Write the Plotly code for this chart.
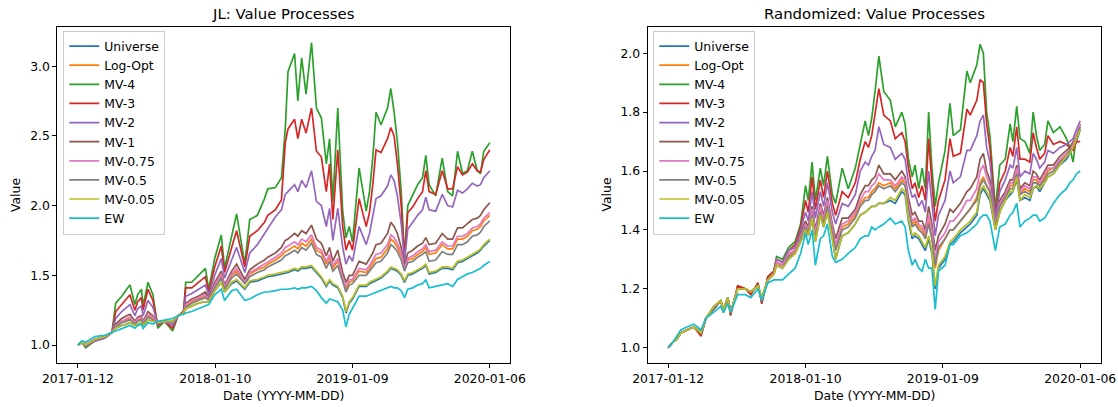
import plotly.graph_objects as go

# ---------------- shared labels ----------------
SERIES_NAMES = ["Universe", "Log-Opt", "MV-4", "MV-3", "MV-2", "MV-1",
                "MV-0.75", "MV-0.5", "MV-0.05", "EW"]
TICK_IDX = [0, 251, 502, 753]
TICK_TEXT = ["2017-01-12", "2018-01-10", "2019-01-09", "2020-01-06"]

# ---------------- JL panel (trading-day index, values) ----------------
JL_IDX = [0, 7, 14, 31, 49, 62, 69, 80, 89, 95, 104, 109, 116, 119, 128, 137, 146, 158, 173, 183,
          193, 197, 208, 220, 233, 239, 250, 262, 268, 281, 290, 305, 314, 328, 341, 347, 361, 372, 379, 384,
          396, 402, 409, 417, 427, 436, 445, 454, 460, 466, 475, 484, 490, 496, 502, 514, 527, 533, 539, 545,
          554, 566, 572, 578, 584, 591, 597, 603, 612, 621, 630, 636, 642, 654, 666, 676, 685, 694, 703, 712,
          721, 730, 736, 742, 753]
JL_MV4 = [1.00, 1.02, 0.98, 1.03, 1.05, 1.09, 1.30, 1.35, 1.40, 1.43, 1.29, 1.36, 1.40, 1.28, 1.45,
          1.36, 1.12, 1.17, 1.10, 1.21, 1.24, 1.45, 1.45, 1.50, 1.55, 1.40, 1.62, 1.79, 1.55, 1.78,
          1.94, 1.58, 1.90, 1.93, 2.05, 2.12, 2.13, 2.20, 2.55, 2.96, 3.09, 2.75, 3.06, 2.80, 3.17,
          2.70, 2.63, 2.30, 2.48, 2.03, 2.70, 1.96, 1.77, 1.85, 1.74, 2.27, 1.96, 2.10, 2.34, 2.67,
          2.58, 2.70, 2.84, 2.67, 2.46, 2.10, 1.63, 2.00, 2.07, 2.15, 2.20, 2.36, 2.15, 2.07, 2.34,
          2.10, 2.07, 2.39, 2.23, 2.25, 2.39, 2.25, 2.23, 2.39, 2.45]
JL_MV3 = [1.00, 1.02, 0.99, 1.03, 1.05, 1.09, 1.24, 1.29, 1.33, 1.36, 1.25, 1.31, 1.34, 1.25, 1.40,
          1.32, 1.14, 1.17, 1.12, 1.21, 1.24, 1.41, 1.41, 1.45, 1.49, 1.38, 1.56, 1.71, 1.52, 1.70,
          1.82, 1.56, 1.78, 1.82, 1.88, 1.93, 1.97, 2.04, 2.45, 2.55, 2.62, 2.48, 2.62, 2.52, 2.70,
          2.39, 2.35, 2.10, 2.30, 1.90, 2.40, 1.85, 1.68, 1.75, 1.68, 2.05, 1.85, 1.95, 2.15, 2.40,
          2.38, 2.48, 2.56, 2.50, 2.30, 2.00, 1.62, 1.95, 1.99, 2.05, 2.10, 2.25, 2.10, 2.08, 2.25,
          2.12, 2.12, 2.28, 2.22, 2.24, 2.30, 2.25, 2.24, 2.33, 2.40]
JL_MV2 = [1.00, 1.02, 0.99, 1.03, 1.05, 1.09, 1.19, 1.24, 1.27, 1.29, 1.21, 1.26, 1.28, 1.21, 1.32,
          1.27, 1.15, 1.17, 1.14, 1.21, 1.23, 1.35, 1.37, 1.40, 1.43, 1.36, 1.50, 1.62, 1.48, 1.61,
          1.70, 1.52, 1.66, 1.72, 1.80, 1.84, 1.92, 1.97, 2.08, 2.10, 2.15, 2.10, 2.18, 2.13, 2.25,
          2.03, 2.00, 1.85, 1.98, 1.75, 1.98, 1.70, 1.58, 1.64, 1.60, 1.85, 1.72, 1.80, 1.93, 2.05,
          2.07, 2.14, 2.22, 2.18, 2.07, 1.87, 1.60, 1.83, 1.88, 1.93, 1.97, 2.06, 1.97, 1.96, 2.08,
          2.00, 1.99, 2.11, 2.09, 2.12, 2.16, 2.14, 2.15, 2.20, 2.25]
JL_MV1 = [1.00, 1.02, 1.00, 1.04, 1.06, 1.09, 1.15, 1.19, 1.21, 1.22, 1.17, 1.20, 1.21, 1.17, 1.24,
          1.21, 1.16, 1.17, 1.16, 1.21, 1.23, 1.30, 1.33, 1.35, 1.38, 1.34, 1.45, 1.53, 1.43, 1.53,
          1.58, 1.47, 1.54, 1.58, 1.61, 1.63, 1.66, 1.70, 1.75, 1.76, 1.80, 1.78, 1.82, 1.80, 1.86,
          1.76, 1.73, 1.64, 1.70, 1.60, 1.68, 1.52, 1.45, 1.50, 1.50, 1.60, 1.58, 1.62, 1.66, 1.72,
          1.73, 1.80, 1.88, 1.85, 1.80, 1.70, 1.57, 1.66, 1.68, 1.71, 1.73, 1.77, 1.72, 1.73, 1.80,
          1.76, 1.76, 1.84, 1.84, 1.87, 1.90, 1.91, 1.93, 1.97, 2.02]
JL_MV075 = [1.00, 1.02, 1.00, 1.04, 1.06, 1.09, 1.14, 1.17, 1.19, 1.20, 1.16, 1.19, 1.20, 1.16, 1.22,
            1.20, 1.16, 1.17, 1.16, 1.21, 1.23, 1.29, 1.32, 1.34, 1.36, 1.33, 1.43, 1.51, 1.42, 1.51,
            1.55, 1.45, 1.52, 1.55, 1.58, 1.60, 1.63, 1.66, 1.70, 1.71, 1.74, 1.72, 1.76, 1.74, 1.79,
            1.70, 1.68, 1.60, 1.65, 1.57, 1.62, 1.48, 1.42, 1.47, 1.47, 1.55, 1.54, 1.57, 1.61, 1.65,
            1.66, 1.72, 1.79, 1.77, 1.73, 1.66, 1.55, 1.62, 1.64, 1.67, 1.69, 1.72, 1.67, 1.68, 1.74,
            1.71, 1.71, 1.78, 1.78, 1.80, 1.84, 1.85, 1.87, 1.91, 1.95]
JL_LOGOPT = [1.00, 1.02, 1.00, 1.04, 1.06, 1.09, 1.14, 1.17, 1.18, 1.19, 1.16, 1.18, 1.19, 1.16, 1.21,
             1.19, 1.16, 1.17, 1.16, 1.21, 1.23, 1.28, 1.31, 1.33, 1.35, 1.33, 1.42, 1.50, 1.41, 1.50,
             1.53, 1.45, 1.51, 1.54, 1.56, 1.58, 1.61, 1.64, 1.67, 1.68, 1.71, 1.69, 1.73, 1.71, 1.76,
             1.68, 1.66, 1.58, 1.63, 1.55, 1.60, 1.47, 1.40, 1.45, 1.46, 1.53, 1.52, 1.55, 1.59, 1.62,
             1.63, 1.69, 1.76, 1.74, 1.70, 1.64, 1.55, 1.61, 1.62, 1.65, 1.67, 1.70, 1.65, 1.66, 1.72,
             1.69, 1.69, 1.76, 1.76, 1.78, 1.82, 1.83, 1.85, 1.89, 1.93]
JL_MV05 = [1.00, 1.02, 1.00, 1.04, 1.06, 1.09, 1.13, 1.16, 1.17, 1.18, 1.15, 1.17, 1.18, 1.15, 1.20,
           1.18, 1.16, 1.17, 1.16, 1.21, 1.23, 1.27, 1.30, 1.32, 1.34, 1.32, 1.41, 1.48, 1.40, 1.48,
           1.51, 1.44, 1.49, 1.52, 1.54, 1.56, 1.59, 1.61, 1.64, 1.65, 1.68, 1.66, 1.70, 1.68, 1.73,
           1.65, 1.63, 1.55, 1.60, 1.53, 1.57, 1.45, 1.38, 1.43, 1.44, 1.50, 1.50, 1.53, 1.56, 1.59,
           1.60, 1.66, 1.72, 1.70, 1.67, 1.61, 1.53, 1.59, 1.60, 1.63, 1.65, 1.67, 1.60, 1.61, 1.67,
           1.65, 1.65, 1.72, 1.72, 1.74, 1.78, 1.79, 1.81, 1.85, 1.89]
JL_MV005 = [1.00, 1.02, 1.00, 1.04, 1.06, 1.09, 1.12, 1.14, 1.15, 1.16, 1.14, 1.15, 1.16, 1.14, 1.18,
            1.17, 1.16, 1.17, 1.17, 1.21, 1.23, 1.26, 1.28, 1.30, 1.31, 1.31, 1.39, 1.45, 1.38, 1.45,
            1.47, 1.41, 1.46, 1.47, 1.49, 1.50, 1.51, 1.52, 1.53, 1.53, 1.55, 1.54, 1.56, 1.56, 1.57,
            1.53, 1.49, 1.43, 1.47, 1.44, 1.42, 1.35, 1.24, 1.31, 1.34, 1.43, 1.43, 1.45, 1.46, 1.47,
            1.49, 1.53, 1.56, 1.55, 1.54, 1.51, 1.46, 1.51, 1.52, 1.54, 1.56, 1.58, 1.52, 1.53, 1.56,
            1.56, 1.55, 1.60, 1.61, 1.63, 1.65, 1.67, 1.69, 1.72, 1.76]
JL_UNIVERSE = [1.00, 1.02, 1.00, 1.04, 1.06, 1.09, 1.12, 1.14, 1.15, 1.16, 1.14, 1.15, 1.16, 1.14, 1.18,
               1.17, 1.16, 1.17, 1.17, 1.21, 1.23, 1.26, 1.28, 1.30, 1.31, 1.31, 1.39, 1.45, 1.38, 1.44,
               1.46, 1.40, 1.45, 1.46, 1.48, 1.49, 1.50, 1.51, 1.52, 1.52, 1.54, 1.53, 1.55, 1.55, 1.56,
               1.52, 1.48, 1.42, 1.46, 1.43, 1.41, 1.34, 1.23, 1.30, 1.33, 1.42, 1.42, 1.44, 1.45, 1.46,
               1.48, 1.52, 1.55, 1.54, 1.53, 1.50, 1.45, 1.50, 1.51, 1.53, 1.55, 1.57, 1.51, 1.52, 1.55,
               1.55, 1.54, 1.59, 1.60, 1.62, 1.64, 1.66, 1.68, 1.71, 1.75]
JL_EW = [1.00, 1.03, 1.02, 1.06, 1.07, 1.09, 1.10, 1.12, 1.13, 1.14, 1.12, 1.14, 1.15, 1.12, 1.16,
         1.15, 1.17, 1.18, 1.19, 1.21, 1.22, 1.23, 1.24, 1.26, 1.28, 1.29, 1.36, 1.40, 1.32, 1.39,
         1.40, 1.32, 1.33, 1.36, 1.38, 1.38, 1.39, 1.40, 1.40, 1.40, 1.41, 1.40, 1.41, 1.41, 1.42,
         1.39, 1.34, 1.30, 1.33, 1.32, 1.31, 1.25, 1.13, 1.22, 1.26, 1.35, 1.35, 1.36, 1.37, 1.38,
         1.39, 1.41, 1.42, 1.41, 1.41, 1.39, 1.34, 1.40, 1.41, 1.43, 1.44, 1.47, 1.41, 1.42, 1.43,
         1.44, 1.42, 1.47, 1.49, 1.51, 1.52, 1.54, 1.55, 1.57, 1.60]

# ---------------- Randomized panel ----------------
RND_IDX = [0, 9, 16, 23, 34, 47, 60, 69, 83, 96, 101, 109, 114, 127, 141, 151, 164, 171, 182, 193,
           198, 209, 220, 232, 242, 251, 256, 263, 269, 278, 284, 291, 300, 306, 318, 329, 342, 351, 360, 366,
           372, 378, 385, 394, 406, 415, 427, 433, 439, 446, 451, 458, 464, 470, 476, 482, 488, 494, 506, 515,
           521, 534, 546, 552, 564, 570, 576, 582, 588, 598, 606, 616, 625, 630, 637, 643, 652, 661, 667, 673,
           679, 688, 694, 704, 716, 728, 734, 740, 746, 753]
RND_MV4 = [1.00, 1.02, 1.03, 1.05, 1.06, 1.07, 1.04, 1.10, 1.13, 1.16, 1.12, 1.17, 1.11, 1.21, 1.20,
           1.18, 1.22, 1.15, 1.24, 1.26, 1.31, 1.30, 1.34, 1.36, 1.42, 1.55, 1.50, 1.63, 1.50, 1.61,
           1.55, 1.65, 1.52, 1.49, 1.61, 1.54, 1.61, 1.69, 1.77, 1.72, 1.78, 1.87, 1.99, 1.87, 1.84,
           1.75, 1.80, 1.76, 1.64, 1.58, 1.62, 1.54, 1.61, 1.54, 1.80, 1.61, 1.48, 1.56, 1.67, 1.83,
           1.72, 1.74, 1.94, 1.90, 1.96, 2.03, 2.00, 1.80, 1.72, 1.47, 1.62, 1.64, 1.76, 1.70, 1.82,
           1.71, 1.70, 1.66, 1.80, 1.72, 1.67, 1.69, 1.77, 1.73, 1.75, 1.71, 1.68, 1.63, 1.72, 1.74]
RND_MV3 = [1.00, 1.02, 1.03, 1.05, 1.06, 1.07, 1.04, 1.10, 1.13, 1.16, 1.12, 1.17, 1.11, 1.21, 1.20,
           1.18, 1.22, 1.15, 1.24, 1.26, 1.30, 1.29, 1.33, 1.35, 1.41, 1.50, 1.46, 1.58, 1.47, 1.57,
           1.51, 1.60, 1.49, 1.45, 1.53, 1.51, 1.56, 1.64, 1.70, 1.68, 1.72, 1.80, 1.88, 1.79, 1.77,
           1.71, 1.73, 1.70, 1.61, 1.54, 1.56, 1.51, 1.55, 1.50, 1.71, 1.56, 1.43, 1.50, 1.57, 1.71,
           1.65, 1.66, 1.81, 1.79, 1.84, 1.91, 1.90, 1.76, 1.68, 1.45, 1.56, 1.60, 1.68, 1.65, 1.75,
           1.64, 1.64, 1.63, 1.73, 1.68, 1.64, 1.66, 1.72, 1.69, 1.70, 1.69, 1.68, 1.67, 1.70, 1.70]
RND_MV2 = [1.00, 1.02, 1.03, 1.05, 1.06, 1.07, 1.05, 1.10, 1.13, 1.16, 1.13, 1.17, 1.12, 1.20, 1.20,
           1.19, 1.21, 1.16, 1.23, 1.25, 1.30, 1.29, 1.33, 1.34, 1.40, 1.46, 1.43, 1.53, 1.44, 1.53,
           1.48, 1.56, 1.46, 1.42, 1.49, 1.48, 1.52, 1.60, 1.63, 1.62, 1.65, 1.67, 1.75, 1.69, 1.68,
           1.64, 1.66, 1.64, 1.56, 1.51, 1.52, 1.48, 1.50, 1.46, 1.60, 1.50, 1.38, 1.45, 1.50, 1.60,
           1.56, 1.58, 1.67, 1.67, 1.72, 1.77, 1.79, 1.68, 1.63, 1.44, 1.53, 1.57, 1.62, 1.61, 1.68,
           1.58, 1.60, 1.59, 1.66, 1.64, 1.61, 1.63, 1.67, 1.66, 1.68, 1.69, 1.70, 1.71, 1.74, 1.77]
RND_MV1 = [1.00, 1.02, 1.03, 1.05, 1.06, 1.07, 1.05, 1.10, 1.13, 1.16, 1.13, 1.17, 1.12, 1.20, 1.20,
           1.19, 1.21, 1.16, 1.23, 1.25, 1.29, 1.28, 1.32, 1.33, 1.39, 1.43, 1.41, 1.48, 1.40, 1.49,
           1.45, 1.51, 1.42, 1.37, 1.44, 1.44, 1.47, 1.52, 1.55, 1.55, 1.57, 1.58, 1.62, 1.59, 1.59,
           1.57, 1.60, 1.58, 1.51, 1.45, 1.46, 1.43, 1.43, 1.40, 1.48, 1.42, 1.33, 1.38, 1.42, 1.47,
           1.46, 1.49, 1.53, 1.54, 1.58, 1.64, 1.66, 1.60, 1.57, 1.42, 1.50, 1.53, 1.57, 1.57, 1.62,
           1.54, 1.56, 1.55, 1.60, 1.59, 1.57, 1.60, 1.62, 1.62, 1.65, 1.67, 1.68, 1.70, 1.72, 1.76]
RND_MV075 = [1.00, 1.02, 1.03, 1.05, 1.06, 1.07, 1.05, 1.10, 1.13, 1.16, 1.13, 1.17, 1.12, 1.20, 1.20,
             1.19, 1.21, 1.16, 1.23, 1.25, 1.29, 1.28, 1.32, 1.33, 1.38, 1.42, 1.40, 1.47, 1.39, 1.48,
             1.44, 1.50, 1.41, 1.35, 1.42, 1.43, 1.46, 1.50, 1.53, 1.53, 1.55, 1.56, 1.59, 1.57, 1.57,
             1.55, 1.58, 1.57, 1.49, 1.43, 1.44, 1.42, 1.41, 1.39, 1.45, 1.40, 1.30, 1.36, 1.39, 1.43,
             1.43, 1.46, 1.50, 1.50, 1.54, 1.60, 1.62, 1.58, 1.55, 1.42, 1.49, 1.52, 1.56, 1.56, 1.61,
             1.53, 1.55, 1.54, 1.58, 1.58, 1.56, 1.59, 1.61, 1.61, 1.64, 1.66, 1.67, 1.69, 1.72, 1.76]
RND_LOGOPT = [1.00, 1.02, 1.03, 1.05, 1.06, 1.07, 1.05, 1.10, 1.13, 1.16, 1.13, 1.17, 1.12, 1.20, 1.20,
              1.19, 1.21, 1.16, 1.23, 1.25, 1.28, 1.28, 1.31, 1.33, 1.38, 1.41, 1.39, 1.46, 1.38, 1.47,
              1.43, 1.49, 1.40, 1.34, 1.41, 1.42, 1.45, 1.49, 1.51, 1.51, 1.53, 1.54, 1.56, 1.55, 1.56,
              1.54, 1.57, 1.56, 1.48, 1.42, 1.43, 1.41, 1.40, 1.38, 1.43, 1.38, 1.27, 1.33, 1.37, 1.40,
              1.40, 1.43, 1.46, 1.47, 1.51, 1.56, 1.58, 1.55, 1.53, 1.41, 1.48, 1.51, 1.55, 1.55, 1.60,
              1.52, 1.54, 1.53, 1.57, 1.57, 1.55, 1.58, 1.60, 1.61, 1.63, 1.66, 1.67, 1.69, 1.71, 1.75]
RND_MV05 = [1.00, 1.02, 1.03, 1.05, 1.06, 1.07, 1.05, 1.10, 1.13, 1.16, 1.13, 1.17, 1.12, 1.20, 1.20,
            1.19, 1.21, 1.16, 1.23, 1.25, 1.28, 1.27, 1.31, 1.32, 1.37, 1.41, 1.39, 1.45, 1.37, 1.46,
            1.42, 1.48, 1.39, 1.33, 1.40, 1.41, 1.44, 1.48, 1.50, 1.50, 1.52, 1.53, 1.55, 1.54, 1.55,
            1.53, 1.56, 1.55, 1.47, 1.41, 1.42, 1.40, 1.39, 1.37, 1.42, 1.37, 1.28, 1.34, 1.37, 1.40,
            1.40, 1.43, 1.46, 1.47, 1.50, 1.55, 1.57, 1.55, 1.53, 1.41, 1.48, 1.51, 1.54, 1.54, 1.59,
            1.52, 1.53, 1.52, 1.56, 1.56, 1.55, 1.57, 1.59, 1.60, 1.63, 1.65, 1.67, 1.68, 1.71, 1.75]
RND_MV005 = [1.00, 1.02, 1.03, 1.05, 1.06, 1.07, 1.05, 1.10, 1.14, 1.16, 1.13, 1.17, 1.12, 1.20, 1.20,
             1.19, 1.21, 1.17, 1.23, 1.25, 1.28, 1.27, 1.30, 1.32, 1.36, 1.40, 1.38, 1.44, 1.36, 1.45,
             1.41, 1.46, 1.37, 1.30, 1.38, 1.39, 1.42, 1.45, 1.46, 1.47, 1.48, 1.48, 1.49, 1.49, 1.51,
             1.50, 1.54, 1.53, 1.44, 1.38, 1.39, 1.38, 1.36, 1.34, 1.38, 1.33, 1.21, 1.28, 1.31, 1.36,
             1.37, 1.40, 1.42, 1.43, 1.46, 1.53, 1.55, 1.53, 1.51, 1.40, 1.46, 1.50, 1.53, 1.53, 1.58,
             1.50, 1.52, 1.51, 1.54, 1.55, 1.54, 1.56, 1.58, 1.59, 1.62, 1.65, 1.66, 1.68, 1.71, 1.74]
RND_UNIVERSE = [1.00, 1.02, 1.03, 1.05, 1.06, 1.07, 1.05, 1.10, 1.14, 1.16, 1.13, 1.17, 1.12, 1.20, 1.20,
                1.19, 1.21, 1.17, 1.23, 1.25, 1.28, 1.27, 1.30, 1.32, 1.36, 1.40, 1.38, 1.44, 1.36, 1.45,
                1.41, 1.46, 1.37, 1.30, 1.38, 1.39, 1.42, 1.45, 1.46, 1.47, 1.48, 1.48, 1.49, 1.49, 1.50,
                1.49, 1.53, 1.52, 1.43, 1.37, 1.38, 1.37, 1.35, 1.33, 1.37, 1.32, 1.20, 1.27, 1.30, 1.35,
                1.36, 1.39, 1.41, 1.42, 1.45, 1.52, 1.54, 1.52, 1.50, 1.40, 1.46, 1.50, 1.52, 1.53, 1.57,
                1.50, 1.51, 1.50, 1.54, 1.55, 1.53, 1.56, 1.58, 1.59, 1.62, 1.64, 1.66, 1.68, 1.70, 1.74]
RND_EW = [1.00, 1.02, 1.04, 1.06, 1.07, 1.08, 1.06, 1.10, 1.12, 1.14, 1.12, 1.15, 1.12, 1.18, 1.18,
          1.17, 1.20, 1.16, 1.22, 1.23, 1.23, 1.23, 1.25, 1.27, 1.32, 1.39, 1.35, 1.40, 1.28, 1.37,
          1.38, 1.42, 1.31, 1.29, 1.30, 1.32, 1.34, 1.37, 1.38, 1.38, 1.41, 1.40, 1.41, 1.42, 1.44,
          1.42, 1.43, 1.41, 1.33, 1.28, 1.30, 1.27, 1.26, 1.30, 1.27, 1.27, 1.13, 1.26, 1.28, 1.35,
          1.35, 1.38, 1.39, 1.40, 1.42, 1.44, 1.45, 1.45, 1.43, 1.33, 1.41, 1.42, 1.45, 1.46, 1.49,
          1.41, 1.43, 1.44, 1.45, 1.45, 1.43, 1.44, 1.46, 1.49, 1.52, 1.54, 1.56, 1.57, 1.59, 1.60]

JL_SERIES = [JL_UNIVERSE, JL_LOGOPT, JL_MV4, JL_MV3, JL_MV2, JL_MV1, JL_MV075, JL_MV05, JL_MV005, JL_EW]
RND_SERIES = [RND_UNIVERSE, RND_LOGOPT, RND_MV4, RND_MV3, RND_MV2, RND_MV1, RND_MV075, RND_MV05, RND_MV005, RND_EW]
JL_YTICKS = [1.0, 1.5, 2.0, 2.5, 3.0]
RND_YTICKS = [1.0, 1.2, 1.4, 1.6, 1.8, 2.0]

COLORS = ["#1f77b4", "#ff7f0e", "#2ca02c", "#d62728", "#9467bd", "#8c564b",
          "#e377c2", "#7f7f7f", "#bcbd22", "#17becf"]

W, H = 1118, 407
FONT = "DejaVu Sans"
TICK_SIZE = 12.4
TITLE_SIZE = 14.9

fig = go.Figure()
for name, ys, col in zip(SERIES_NAMES, JL_SERIES, COLORS):
    fig.add_trace(go.Scatter(x=JL_IDX, y=ys, mode="lines", name=name,
                             line=dict(color=col, width=1.7),
                             xaxis="x", yaxis="y", legend="legend"))
for name, ys, col in zip(SERIES_NAMES, RND_SERIES, COLORS):
    fig.add_trace(go.Scatter(x=RND_IDX, y=ys, mode="lines", name=name,
                             line=dict(color=col, width=1.7),
                             xaxis="x2", yaxis="y2", legend="legend2"))

ydom = [(H - 362.7) / H, (H - 27.3) / H]
xdom1 = [57.4 / W, 510.4 / W]
xdom2 = [647.6 / W, 1100.8 / W]
xpad = 0.05 * TICK_IDX[-1]

axis_common = dict(ticks="outside", ticklen=4, tickwidth=1, tickcolor="black",
                   showline=True, linecolor="black", linewidth=1, mirror=True,
                   showgrid=False, zeroline=False, automargin=False,
                   tickfont=dict(family=FONT, size=TICK_SIZE, color="black"))

legend_common = dict(xanchor="left", yanchor="top",
                     bgcolor="rgba(255,255,255,0.8)", bordercolor="#cccccc", borderwidth=1,
                     font=dict(family=FONT, size=TICK_SIZE, color="black"), tracegroupgap=0)

fig.update_layout(
    width=W, height=H,
    margin=dict(l=0, r=0, t=0, b=0, pad=0),
    paper_bgcolor="white", plot_bgcolor="white",
    font=dict(family=FONT, size=TICK_SIZE, color="black"),
    xaxis=dict(domain=xdom1, anchor="y", range=[-xpad, TICK_IDX[-1] + xpad],
               tickvals=TICK_IDX, ticktext=TICK_TEXT, **axis_common),
    yaxis=dict(domain=ydom, anchor="x", range=[0.873, 3.279],
               tickvals=JL_YTICKS, tickformat=".1f", **axis_common),
    xaxis2=dict(domain=xdom2, anchor="y2", range=[-xpad, TICK_IDX[-1] + xpad],
                tickvals=TICK_IDX, ticktext=TICK_TEXT, **axis_common),
    yaxis2=dict(domain=ydom, anchor="x2", range=[0.949, 2.088],
                tickvals=RND_YTICKS, tickformat=".1f", **axis_common),
    legend=dict(x=63.3 / W, y=(H - 30.5) / H, **legend_common),
    legend2=dict(x=653.3 / W, y=(H - 30.5) / H, **legend_common),
)

annots = [
    dict(text="JL: Value Processes", x=(xdom1[0] + xdom1[1]) / 2, y=(H - 14) / H,
         font=dict(size=TITLE_SIZE)),
    dict(text="Randomized: Value Processes", x=(xdom2[0] + xdom2[1]) / 2, y=(H - 14) / H,
         font=dict(size=TITLE_SIZE)),
    dict(text="Date (YYYY-MM-DD)", x=(xdom1[0] + xdom1[1]) / 2, y=(H - 395.5) / H,
         font=dict(size=TICK_SIZE)),
    dict(text="Date (YYYY-MM-DD)", x=(xdom2[0] + xdom2[1]) / 2, y=(H - 395.5) / H,
         font=dict(size=TICK_SIZE)),
    dict(text="Value", x=15 / W, y=(ydom[0] + ydom[1]) / 2, textangle=-90,
         font=dict(size=TICK_SIZE)),
    dict(text="Value", x=605.5 / W, y=(ydom[0] + ydom[1]) / 2, textangle=-90,
         font=dict(size=TICK_SIZE)),
]
for a in annots:
    fig.add_annotation(xref="paper", yref="paper", showarrow=False,
                       xanchor="center", yanchor="middle",
                       font_family=FONT, font_color="black", **a)

fig.write_html("out.html", config={"displayModeBar": False},
               post_script="document.body.style.margin='0';")
